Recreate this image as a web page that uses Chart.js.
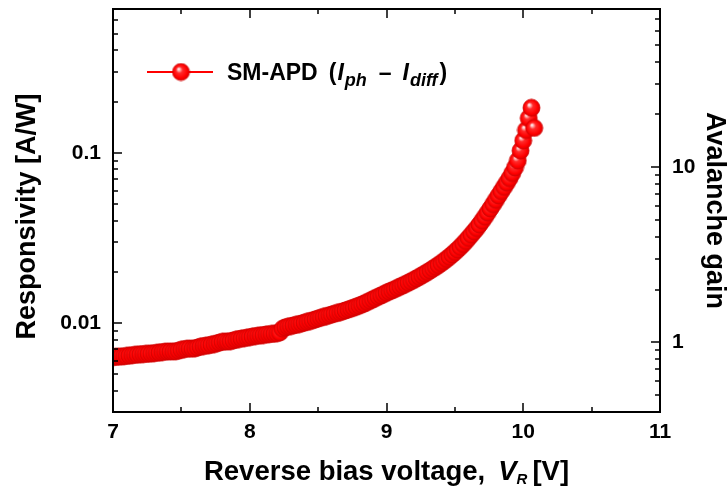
<!DOCTYPE html>
<html>
<head>
<meta charset="utf-8">
<script src="https://cdn.jsdelivr.net/npm/chart.js@4.4.1/dist/chart.umd.min.js"></script>
<style>
html,body{margin:0;padding:0;background:#ffffff;}
#wrap{width:728px;height:494px;position:relative;}
</style>
</head>
<body>
<div id="wrap"><canvas id="c" width="728" height="494"></canvas></div>
<script>
// ---------------- DATA ----------------
const voltage = [
  7.00,7.02,7.04,7.06,7.08,7.10,7.12,7.14,7.16,7.18,
  7.20,7.22,7.24,7.26,7.28,7.30,7.32,7.34,7.36,7.38,
  7.40,7.42,7.44,7.46,7.48,7.50,7.52,7.54,7.56,7.58,
  7.60,7.62,7.64,7.66,7.68,7.70,7.72,7.74,7.76,7.78,
  7.80,7.82,7.84,7.86,7.88,7.90,7.92,7.94,7.96,7.98,
  8.00,8.02,8.04,8.06,8.08,8.10,8.12,8.14,8.16,8.18,
  8.20,8.22,8.24,8.26,8.28,8.30,8.32,8.34,8.36,8.38,
  8.40,8.42,8.44,8.46,8.48,8.50,8.52,8.54,8.56,8.58,
  8.60,8.62,8.64,8.66,8.68,8.70,8.72,8.74,8.76,8.78,
  8.80,8.82,8.84,8.86,8.88,8.90,8.92,8.94,8.96,8.98,
  9.00,9.02,9.04,9.06,9.08,9.10,9.12,9.14,9.16,9.18,
  9.20,9.22,9.24,9.26,9.28,9.30,9.32,9.34,9.36,9.38,
  9.40,9.42,9.44,9.46,9.48,9.50,9.52,9.54,9.56,9.58,
  9.60,9.62,9.64,9.66,9.68,9.70,9.72,9.74,9.76,9.78,
  9.80,9.82,9.84,9.86,9.88,9.90,9.92,9.94,9.96,9.98,
  10.00,10.02,10.04,10.06,10.08
];
const responsivity = [
  0.00630,0.00632,0.00634,0.00636,0.00638,0.00640,0.00644,0.00647,0.00650,0.00652,
  0.00655,0.00657,0.00658,0.00660,0.00662,0.00665,0.00668,0.00671,0.00675,0.00678,
  0.00680,0.00681,0.00680,0.00682,0.00688,0.00696,0.00702,0.00706,0.00708,0.00706,
  0.00710,0.00718,0.00726,0.00732,0.00736,0.00740,0.00746,0.00752,0.00760,0.00768,
  0.00775,0.00780,0.00778,0.00782,0.00790,0.00798,0.00805,0.00810,0.00815,0.00820,
  0.00826,0.00832,0.00838,0.00842,0.00846,0.00850,0.00856,0.00860,0.00862,0.00866,
  0.00870,0.00880,0.00925,0.00942,0.00952,0.00960,0.00968,0.00976,0.00985,0.00995,
  0.01005,0.01016,0.01027,0.01038,0.01050,0.01062,0.01074,0.01086,0.01098,0.01110,
  0.01122,0.01134,0.01146,0.01158,0.01171,0.01185,0.01199,0.01214,0.01230,0.01247,
  0.01265,0.01284,0.01305,0.01328,0.01352,0.01377,0.01402,0.01427,0.01452,0.01478,
  0.01505,0.01530,0.01555,0.01580,0.01608,0.01636,0.01665,0.01695,0.01726,0.01758,
  0.01792,0.01828,0.01866,0.01906,0.01948,0.01992,0.02038,0.02086,0.02136,0.02190,
  0.02248,0.02310,0.02376,0.02448,0.02526,0.02610,0.02700,0.02800,0.02910,0.03030,
  0.03160,0.03300,0.03450,0.03610,0.03790,0.03990,0.04210,0.04450,0.04710,0.04990,
  0.05290,0.05610,0.05950,0.06300,0.06680,0.07100,0.07600,0.08200,0.09000,0.10300,
  0.11800,0.13600,0.16000,0.18400,0.14000
];
const seriesLabel = 'SM-APD (Iph – Idiff)';
const xTickValues = [7, 7.5, 8, 8.5, 9, 9.5, 10, 10.5, 11];
const xTickLabels = ['7', '', '8', '', '9', '', '10', '', '11'];
const leftTickValues = [0.003,0.004,0.005,0.006,0.007,0.008,0.009,
  0.01,0.02,0.03,0.04,0.05,0.06,0.07,0.08,0.09,
  0.1,0.2,0.3,0.4,0.5,0.6,0.7];
const leftTickLabels = {'0.01':'0.01','0.1':'0.1'};
const rightTickValues = [0.4,0.5,0.6,0.7,0.8,0.9,
  1,2,3,4,5,6,7,8,9,
  10,20,30,40,50,60,70,80];
const rightTickLabels = {'1':'1','10':'10'};

// ---------------- STYLE ----------------
const FONT = '"Liberation Sans", Arial, Helvetica, sans-serif';

function makeSphere(r) {
  const size = Math.ceil(r * 2 + 2);
  const cv = document.createElement('canvas');
  cv.width = size; cv.height = size;
  const g = cv.getContext('2d');
  const c = size / 2;
  const grad = g.createRadialGradient(c - r * 0.3, c - r * 0.38, 0, c, c, r);
  grad.addColorStop(0, '#ffffff');
  grad.addColorStop(0.12, '#ffd0d0');
  grad.addColorStop(0.38, '#ff2a2a');
  grad.addColorStop(0.8, '#ff0000');
  grad.addColorStop(1, '#d80000');
  g.beginPath();
  g.arc(c, c, r, 0, Math.PI * 2);
  g.fillStyle = grad;
  g.fill();
  g.lineWidth = 0.8;
  g.strokeStyle = '#d00000';
  g.stroke();
  return cv;
}
const sphere = makeSphere(8.5);

const frameAndDecor = {
  id: 'frameAndDecor',
  afterDatasetsDraw(chart) {
    const {ctx, chartArea: a, scales} = chart;
    const x = scales.x, y = scales.y, y2 = scales.y2;
    ctx.save();
    ctx.strokeStyle = '#000';
    ctx.lineWidth = 1.5;
    ctx.beginPath();
    x.ticks.forEach(t => {
      const px = Math.round(x.getPixelForValue(t.value));
      const len = t.label ? 9 : 5;
      ctx.moveTo(px, a.bottom); ctx.lineTo(px, a.bottom - len);
      ctx.moveTo(px, a.top); ctx.lineTo(px, a.top + len);
    });
    y.ticks.forEach(t => {
      const py = Math.round(y.getPixelForValue(t.value));
      const len = t.label ? 9 : 5;
      ctx.moveTo(a.left, py); ctx.lineTo(a.left + len, py);
    });
    y2.ticks.forEach(t => {
      const py = Math.round(y2.getPixelForValue(t.value));
      const len = t.label ? 9 : 5;
      ctx.moveTo(a.right, py); ctx.lineTo(a.right - len, py);
    });
    ctx.stroke();
    ctx.lineWidth = 2;
    ctx.strokeRect(a.left, a.top, a.right - a.left, a.bottom - a.top);
    ctx.restore();
  },
  afterDraw(chart) {
    const {ctx, chartArea: a} = chart;
    ctx.save();
    ctx.fillStyle = '#000';
    ctx.textBaseline = 'alphabetic';
    ctx.textAlign = 'left';
    const drawParts = (parts, x0, base) => {
      let xx = x0;
      parts.forEach(p => {
        xx += p.gap || 0;
        ctx.font = p.f;
        ctx.fillText(p.t, xx, base + p.dy);
        xx += ctx.measureText(p.t).width;
      });
    };
    const measureParts = parts => parts.reduce((s, p) => { ctx.font = p.f; return s + (p.gap || 0) + ctx.measureText(p.t).width; }, 0);

    // left axis title (rotated), centred slightly below the plot centre as in the original
    ctx.save();
    ctx.translate(35, (a.top + a.bottom) / 2 + 6);
    ctx.rotate(-Math.PI / 2);
    ctx.font = 'bold 27px ' + FONT;
    ctx.textAlign = 'center';
    ctx.fillText('Responsivity [A/W]', 0, 0);
    ctx.restore();

    // x axis title with italic V and subscript R
    const xParts = [
      {t: 'Reverse bias voltage,', f: 'bold 27.5px ' + FONT, dy: 0},
      {t: 'V', f: 'italic bold 27.5px ' + FONT, dy: 0, gap: 13},
      {t: 'R', f: 'italic bold 15px ' + FONT, dy: 4},
      {t: '[V]', f: 'bold 27.5px ' + FONT, dy: 0, gap: 5}
    ];
    const w = measureParts(xParts);
    drawParts(xParts, (a.left + a.right) / 2 - w / 2, 480);

    // legend
    const ly = 72;
    ctx.strokeStyle = '#ff0000';
    ctx.lineWidth = 2;
    ctx.beginPath();
    ctx.moveTo(147, ly); ctx.lineTo(213, ly);
    ctx.stroke();
    ctx.drawImage(sphere, 181 - sphere.width / 2, ly - sphere.height / 2);
    const lParts = [
      {t: 'SM-APD', f: 'bold 23px ' + FONT, dy: 0},
      {t: '(', f: 'bold 23px ' + FONT, dy: 0, gap: 11},
      {t: 'I', f: 'italic bold 23px ' + FONT, dy: 0, gap: 1},
      {t: 'ph', f: 'italic bold 18px ' + FONT, dy: 6, gap: 1},
      {t: '–', f: 'bold 23px ' + FONT, dy: 0, gap: 12},
      {t: 'I', f: 'italic bold 23px ' + FONT, dy: 0, gap: 11},
      {t: 'diff', f: 'italic bold 18px ' + FONT, dy: 6, gap: 1},
      {t: ')', f: 'bold 23px ' + FONT, dy: 0, gap: 2}
    ];
    drawParts(lParts, 227, 80);
    ctx.restore();
  }
};

const tickFont = {family: FONT, size: 21, weight: 'bold'};
const titleFont = {family: FONT, size: 27, weight: 'bold', lineHeight: 1};

new Chart(document.getElementById('c'), {
  type: 'scatter',
  data: {
    datasets: [{
      label: seriesLabel,
      data: voltage.map((v, i) => ({x: v, y: responsivity[i]})),
      pointStyle: sphere,
      showLine: false,
      borderColor: '#ff0000',
      backgroundColor: '#ff0000',
      clip: 0,
      yAxisID: 'y'
    }]
  },
  options: {
    responsive: false,
    animation: false,
    devicePixelRatio: 1,
    events: [],
    layout: {padding: {top: 9, left: 0, right: 0, bottom: 0}},
    plugins: {legend: {display: false}, tooltip: {enabled: false}},
    scales: {
      x: {
        type: 'linear', position: 'bottom', min: 7, max: 11,
        afterBuildTicks: s => { s.ticks = xTickValues.map(v => ({value: v})); },
        afterFit: s => { s.height = 82; s.paddingLeft = 0; s.paddingRight = 0; },
        grid: {display: false, drawTicks: false},
        border: {display: false},
        ticks: {
          autoSkip: false, maxRotation: 0, minRotation: 0, padding: 8, color: '#000', font: tickFont,
          callback: (v, i) => xTickLabels[xTickValues.indexOf(v)] || ''
        }
      },
      y: {
        type: 'logarithmic', position: 'left', min: 0.003, max: 0.7,
        afterBuildTicks: s => { s.ticks = leftTickValues.map(v => ({value: v})); },
        afterFit: s => { s.width = 113; s.paddingTop = 0; s.paddingBottom = 0; },
        grid: {display: false, drawTicks: false},
        border: {display: false},
        ticks: {
          autoSkip: false, padding: 12, color: '#000', font: tickFont,
          callback: v => leftTickLabels[String(v)] || ''
        },
        title: {display: false}
      },
      y2: {
        type: 'logarithmic', position: 'right', min: 0.4, max: 80,
        afterBuildTicks: s => { s.ticks = rightTickValues.map(v => ({value: v})); },
        afterFit: s => { s.width = 68; s.paddingTop = 0; s.paddingBottom = 0; },
        grid: {display: false, drawTicks: false},
        border: {display: false},
        ticks: {
          autoSkip: false, padding: 12, color: '#000', font: tickFont,
          callback: v => rightTickLabels[String(v)] || ''
        },
        title: {display: true, text: 'Avalanche gain', color: '#000', font: titleFont, padding: {top: 0.5, bottom: 0}}
      }
    }
  },
  plugins: [frameAndDecor]
});
</script>
</body>
</html>
